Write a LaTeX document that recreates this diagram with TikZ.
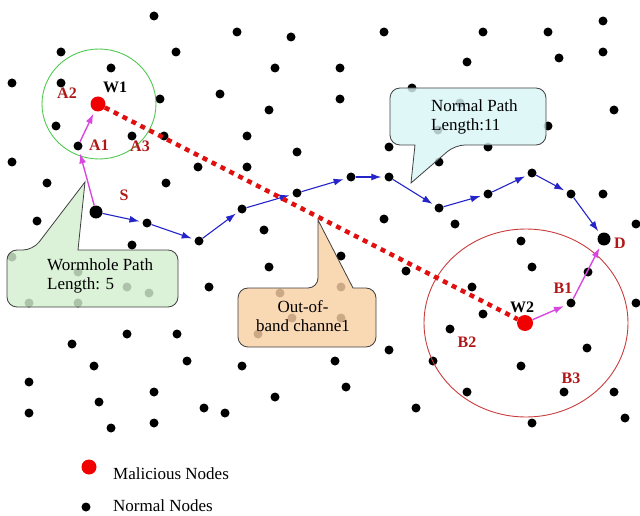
\documentclass[tikz,border=0pt]{standalone}
\usepackage{fontspec}
\setmainfont{Liberation Serif}
\usepackage{tikz}
\usetikzlibrary{arrows.meta}
\definecolor{evilred}{HTML}{F00000}
\definecolor{hopblue}{HTML}{2424C8}
\definecolor{wormpink}{HTML}{D848E0}
\definecolor{tunnelred}{HTML}{E01010}
\definecolor{ringgreen}{HTML}{50C850}
\definecolor{ringred}{HTML}{C83C3C}
\definecolor{tagred}{HTML}{B01818}
\definecolor{normfill}{HTML}{D9F5F7}
\definecolor{wormfill}{HTML}{D3EFCF}
\definecolor{bandfill}{HTML}{F8CFA4}
\tikzset{
  plaindot/.style={circle, fill=black, inner sep=0pt, minimum size=9pt},
  bigdot/.style={plaindot, minimum size=13pt},
  evil/.style={circle, fill=evilred, inner sep=0pt, minimum size=15pt},
  hop/.style={draw=hopblue, line width=1.1pt, -{Latex[length=10pt,width=7pt]}, shorten >=3pt},
  worm/.style={draw=wormpink, line width=1.4pt, -{Latex[length=10pt,width=7pt]}, shorten >=3pt},
  tunnel/.style={draw=tunnelred, line width=4.5pt, dash pattern=on 5pt off 5pt},
  nodetag/.style={text=tagred, font=\bfseries\fontsize{16}{16}\selectfont, inner sep=0pt},
  callout/.style={draw=black!75, line width=0.8pt, fill opacity=0.82},
  boxtext/.style={font=\fontsize{17}{19}\selectfont, inner sep=0pt}
}
\begin{document}
\begin{tikzpicture}[x=1pt,y=-1pt]
\useasboundingbox (0,0) rectangle (640,516);
% normal nodes
\foreach \x/\y [count=\i] in {154/16, 61/52, 176/52, 111/68, 12/83, 61/83, 160/99, 56/126,
  132/136, 164/136, 12/162, 198/167, 237/32, 291/37, 384/32, 275/68, 340/68, 220/94,
  340/99, 269/110, 247/136, 297/152, 389/147, 247/167, 412/88, 483/32, 548/32, 603/21,
  467/62, 559/58, 603/52, 614/110, 548/126, 488/147, 439/162, 460/103, 438/130, 47/183,
  166/183, 37/221, 132/245, 209/287, 127/334, 177/334, 72/344, 12/257, 78/272, 127/287,
  149/293, 29/303, 78/303, 264/230, 384/219, 341/256, 269/267, 406/271, 280/293, 341/287,
  292/318, 341/318, 258/334, 603/194, 455/224, 636/224, 521/241, 532/267, 472/287, 483/314,
  636/303, 450/329, 587/348, 94/366, 187/361, 29/382, 154/392, 99/402, 29/413, 204/408,
  154/423, 111/428, 242/366, 335/361, 389/350, 346/387, 275/397, 225/413, 416/408, 433/361,
  521/366, 467/392, 564/392, 614/392, 532/423, 625/418}
  \node[plaindot] (d\i) at (\x,\y) {};
%
\node[bigdot] (S) at (96,212) {};
\node[plaindot] (n1) at (147,223) {};
\node[plaindot] (n2) at (199,241) {};
\node[plaindot] (n3) at (242,209) {};
\node[plaindot] (n4) at (297,193) {};
\node[plaindot] (n5) at (351,177) {};
\node[plaindot] (n6) at (389,177) {};
\node[plaindot] (n7) at (439,208) {};
\node[plaindot] (n8) at (488,194) {};
\node[plaindot] (n9) at (532,173) {};
\node[plaindot] (n10) at (571,194) {};
\node[bigdot] (D) at (604,239) {};
\node[plaindot] (A1) at (78,146) {};
\node[plaindot] (B1) at (571,303) {};
\node[plaindot] (Bmid) at (588,272) {};
% malicious nodes and their range
\draw[ringgreen, line width=0.9pt] (99,104) ellipse [x radius=57, y radius=55];
\draw[ringred, line width=0.9pt] (526,323) ellipse [x radius=102, y radius=94];
\node[evil] (W1) at (98,104) {};
\node[evil, minimum size=16pt] (W2) at (525,323) {};
% normal path
\draw[hop] (S) -- (n1);
\draw[hop] (n1) -- (n2);
\draw[hop] (n2) -- (n3);
\draw[hop] (n3) -- (n4);
\draw[hop] (n4) -- (n5);
\draw[hop] (n5) -- (n6);
\draw[hop] (n6) -- (n7);
\draw[hop] (n7) -- (n8);
\draw[hop] (n8) -- (n9);
\draw[hop] (n9) -- (n10);
\draw[hop] (n10) -- (D);
% wormhole path
\draw[worm] (S) -- (A1);
\draw[worm] (A1) -- (W1);
\draw[worm] (W2) -- (B1);
\draw[worm] (B1) -- (D);
\draw[tunnel] (W1) -- (W2);
%
\node[font=\bfseries\fontsize{16}{16}\selectfont, inner sep=0pt] (W1tag) at (115,87) {W1};
\node[font=\bfseries\fontsize{16}{16}\selectfont, inner sep=0pt] (W2tag) at (522,307) {W2};
\node[nodetag] (A2tag) at (67,93) {A2};
\node[nodetag] (A1tag) at (99,145) {A1};
\node[nodetag] (A3tag) at (140,146) {A3};
\node[nodetag] (Stag) at (124,195) {S};
\node[nodetag] (B1tag) at (563,288) {B1};
\node[nodetag] (Dtag) at (620,243) {D};
\node[nodetag] (B2tag) at (467,342) {B2};
\node[nodetag] (B3tag) at (571,378) {B3};
% callouts
\draw[callout, fill=wormfill] (7,280) [rounded corners=10pt] -- (7,250) -- (33,250) [sharp corners] -- (85,182) -- (78,250) [rounded corners=10pt] -- (178,250) -- (178,307) -- (7,307) -- cycle;
\draw[callout, fill=normfill] (390,116) [rounded corners=10pt] -- (390,88) -- (546,88) -- (546,145) -- (455,145) [sharp corners] -- (411,183) -- (415,145) [rounded corners=10pt] -- (390,145) -- cycle;
\draw[callout, fill=bandfill] (238,318) [rounded corners=10pt] -- (238,288) -- (318,288) [sharp corners] -- (318,220) -- (353,288) [rounded corners=10pt] -- (376,288) -- (376,347) -- (238,347) -- cycle;
\node[boxtext, align=left, anchor=west] (wormtxt) at (47,276) {Wormhole Path\\Length: 5};
\node[boxtext, align=left, anchor=west] (normtxt) at (431,117) {Normal Path\\Length:11};
\node[boxtext, align=center] (bandtxt) at (303,316) {Out-of-\\band channe1};
% legend
\node[evil] (legevil) at (89,467) {};
\node[boxtext, anchor=west] (legeviltxt) at (113,474) {Malicious Nodes};
\node[plaindot] (legnormal) at (86,507) {};
\node[boxtext, anchor=west] (legnormaltxt) at (113,506) {Normal Nodes};
\end{tikzpicture}
\end{document}
